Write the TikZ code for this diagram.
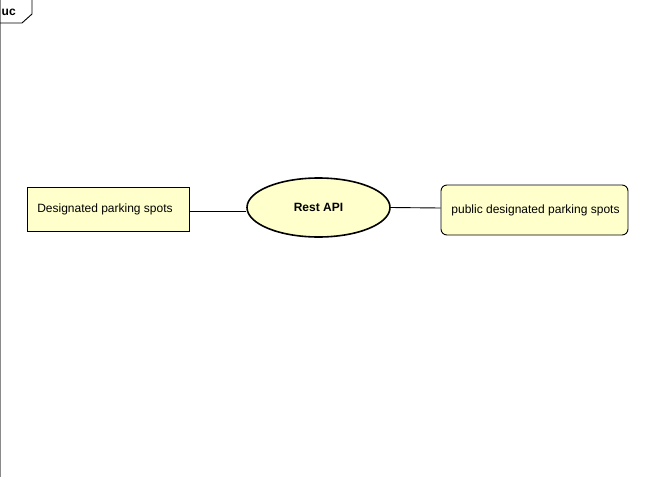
\documentclass[tikz,border=0pt]{standalone}
\usepackage{fontspec}
\setmainfont{Liberation Sans}
\usetikzlibrary{shapes.geometric}
\definecolor{ucfill}{HTML}{FFFFCC}
\definecolor{framegray}{HTML}{8A8A8A}
\tikzset{
  ucbox/.style={draw=black, fill=ucfill, line width=0.9pt, inner sep=0pt, font=\fontsize{12}{14}\selectfont},
  conn/.style={draw=black, line width=0.9pt},
}
\begin{document}
\begin{tikzpicture}[x=1pt,y=-1pt]
\useasboundingbox (0,0) rectangle (664,477);
% frame
\draw[framegray, line width=1.2pt] (0.8,0) -- (0.8,477);
\draw[black, line width=0.9pt] (0,23) -- (22,23) -- (32,14) -- (32,0);
\node[anchor=base west, inner sep=0pt, font=\bfseries\fontsize{12}{14}\selectfont] (uc) at (1.5,15.5) {uc};
% nodes
\node[ucbox, rectangle, minimum width=162pt, minimum height=44pt] (dps) at (108,209) {\hspace*{-6pt}Designated parking spots};
\node[ucbox, ellipse, minimum width=143pt, minimum height=59pt, font=\bfseries\fontsize{12}{14}\selectfont, line width=1.6pt] (api) at (318.5,207.5) {Rest API};
\node[ucbox, rectangle, rounded corners=6pt, minimum width=187pt, minimum height=50pt] (pub) at (534.5,210) {\hspace*{2pt}public designated parking spots};
% connectors
\draw[conn] (dps.east |- 0,211.5) -- (api.west |- 0,211.5);
\draw[conn] (api.east) -- (pub.west |- 0,208);
\end{tikzpicture}
\end{document}
